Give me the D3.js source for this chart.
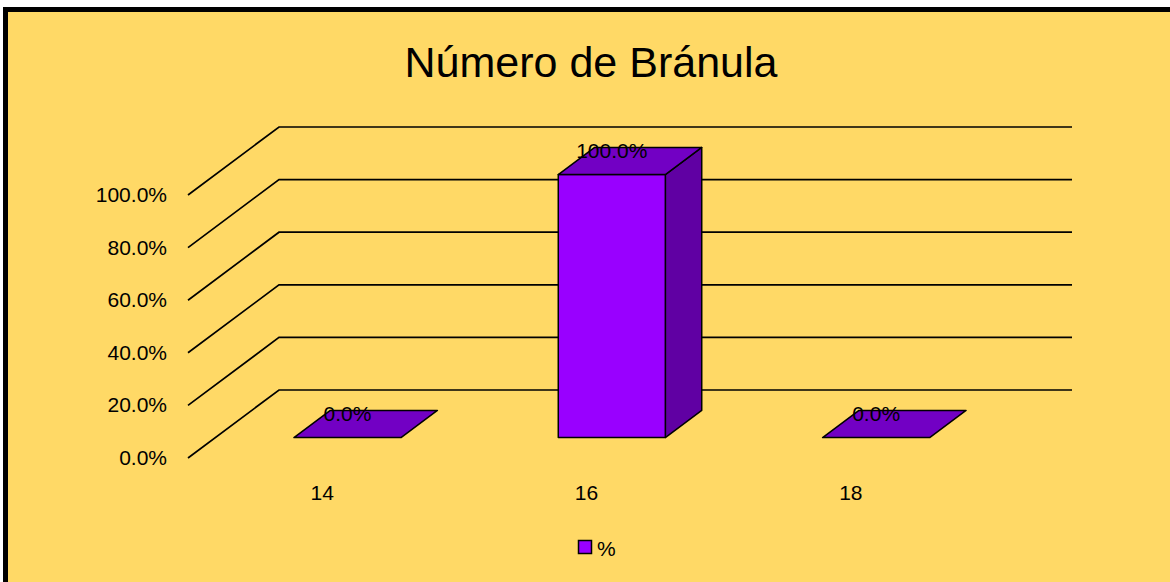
<!DOCTYPE html>
<html>
<head>
<meta charset="utf-8">
<script src="https://cdn.jsdelivr.net/npm/d3@7"></script>
<style>
  html, body { margin: 0; padding: 0; background: #fff; }
  svg { display: block; }
  text { font-family: "Liberation Sans", Arial, sans-serif; fill: #000; }
</style>
</head>
<body>
<div id="plot"></div>
<script>
// chart data
const title = 'Número de Bránula';
const categories = ['14', '16', '18'];
const values = [0, 1, 0];
const seriesName = '%';
const yTicks = [0, 0.2, 0.4, 0.6, 0.8, 1.0];

const W = 1170, H = 582;
const svg = d3.select('#plot').append('svg').attr('width', W).attr('height', H);

// background + frame
svg.append('rect')
  .attr('x', 5.5).attr('y', 9.5)
  .attr('width', 1300).attr('height', 800)
  .attr('fill', '#FFD966')
  .attr('stroke', '#000')
  .attr('stroke-width', 5);

svg.append('text')
  .attr('x', 591).attr('y', 77)
  .attr('text-anchor', 'middle')
  .style('font-size', '43px')
  .text(title);

// 3d geometry: front plane + depth offset for the back wall
const front = { left: 188, right: 981 };
const depth = { dx: 91, dy: -68 };
const y = d3.scaleLinear().domain([0, 1]).range([458, 195]);
const x = d3.scaleBand().domain(categories).range([front.left, front.right]).padding(0);
const fmt = d3.format('.1%');

// walls: diagonal lines on side wall, horizontals on back wall
const grid = svg.append('g').attr('class', 'grid')
  .attr('stroke', '#000').attr('stroke-width', 1.7).attr('fill', 'none');
yTicks.forEach((t) => {
  const yf = y(t), yb = y(t) + depth.dy;
  grid.append('path')
    .attr('d', `M${front.left},${yf}L${front.left + depth.dx},${yb}L${front.right + depth.dx},${yb}`);
});

svg.append('g').selectAll('text')
  .data(yTicks)
  .enter()
  .append('text')
  .attr('x', 167)
  .attr('y', (d) => y(d) + 7)
  .attr('text-anchor', 'end')
  .style('font-size', '21px')
  .text((d) => fmt(d));

// bars sit between 30% and 70% of the depth
const z0 = 0.3, z1 = 0.7;
const barW = x.bandwidth() * 0.405;
const bars = categories.map((c, i) => {
  const cx = x(c) + x.bandwidth() / 2 + depth.dx * z0;
  const x0 = cx - barW / 2, x1 = cx + barW / 2;
  const yb = y(0) + depth.dy * z0;
  const yt = y(values[i]) + depth.dy * z0;
  const ddx = depth.dx * (z1 - z0), ddy = depth.dy * (z1 - z0);
  return { c, v: values[i], cx, x0, x1, yb, yt, ddx, ddy };
});

const barG = svg.append('g').attr('class', 'bars')
  .attr('stroke', '#000').attr('stroke-width', 1.5).attr('stroke-linejoin', 'round');

bars.forEach((b) => {
  if (b.v > 0) {
    // side face
    barG.append('path')
      .attr('fill', '#6000A3')
      .attr('d', `M${b.x1},${b.yb}L${b.x1 + b.ddx},${b.yb + b.ddy}L${b.x1 + b.ddx},${b.yt + b.ddy}L${b.x1},${b.yt}Z`);
    // front face
    barG.append('rect')
      .attr('fill', '#9900FF')
      .attr('x', b.x0).attr('y', b.yt)
      .attr('width', b.x1 - b.x0).attr('height', b.yb - b.yt);
  }
  // top face
  barG.append('path')
    .attr('fill', '#7200C4')
    .attr('d', `M${b.x0},${b.yt}L${b.x1},${b.yt}L${b.x1 + b.ddx},${b.yt + b.ddy}L${b.x0 + b.ddx},${b.yt + b.ddy}Z`);
});

// value labels
svg.append('g').selectAll('text')
  .data(bars)
  .enter()
  .append('text')
  .attr('x', (d) => d.cx)
  .attr('y', (d) => d.yt + d.ddy + 11)
  .attr('text-anchor', 'middle')
  .style('font-size', '21px')
  .text((d) => fmt(d.v));

// category labels
svg.append('g').selectAll('text')
  .data(categories)
  .enter()
  .append('text')
  .attr('x', (d) => x(d) + x.bandwidth() / 2 + 2)
  .attr('y', 500)
  .attr('text-anchor', 'middle')
  .style('font-size', '21px')
  .text((d) => d);

// legend
svg.append('rect')
  .attr('x', 578.5).attr('y', 540.5)
  .attr('width', 13).attr('height', 13)
  .attr('fill', '#9900FF').attr('stroke', '#000').attr('stroke-width', 1.5);
svg.append('text')
  .attr('x', 597).attr('y', 556)
  .style('font-size', '21px')
  .text(seriesName);
</script>
</body>
</html>
